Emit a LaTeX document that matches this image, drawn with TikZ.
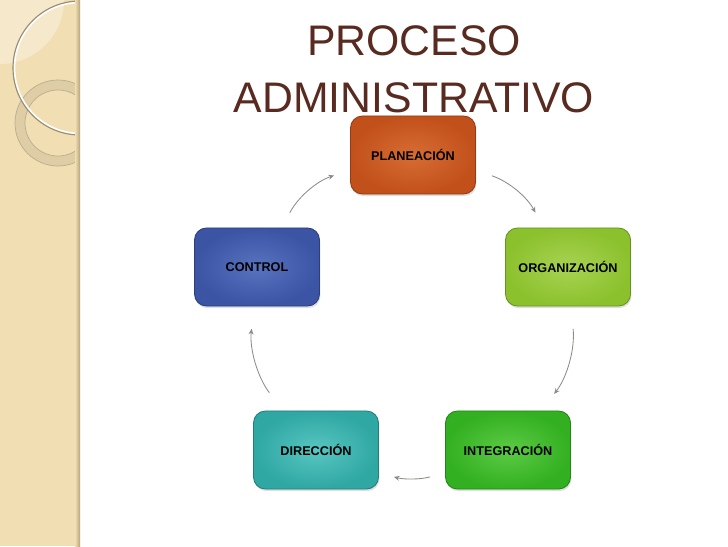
\documentclass[tikz,border=0pt]{standalone}
\usepackage{fontspec}
\setmainfont{Liberation Sans}
\usetikzlibrary{arrows.meta,shadows,calc}

\definecolor{stripbg}{HTML}{F1DFB3}
\definecolor{striplight}{HTML}{F5E8CB}
\definecolor{stripedge}{HTML}{B5A27C}
\definecolor{ringtan}{HTML}{D2C29C}
\definecolor{linegray}{HTML}{9A8D76}
\definecolor{titlebrown}{HTML}{592B20}
\definecolor{arrowgray}{HTML}{8C8C86}

\definecolor{planbase}{HTML}{C2501B}
\definecolor{planlight}{HTML}{D76D33}
\definecolor{orgbase}{HTML}{8CC12E}
\definecolor{orglight}{HTML}{A8D352}
\definecolor{intbase}{HTML}{33B021}
\definecolor{intlight}{HTML}{5CCB45}
\definecolor{dirbase}{HTML}{2FA7A3}
\definecolor{dirlight}{HTML}{58C6C1}
\definecolor{ctrlbase}{HTML}{3B54A4}
\definecolor{ctrllight}{HTML}{5873C0}

\begin{document}
\begin{tikzpicture}[x=0.025cm,y=0.025cm,>={Stealth[length=4pt,width=3.5pt]}]

\tikzstyle{stepbox}=[rounded corners=0.3cm, minimum width=3.125cm, minimum height=1.95cm, font=\bfseries\fontsize{9}{11}\selectfont, text=black, line width=0.6pt, drop shadow={opacity=0.25,shadow xshift=0.6pt,shadow yshift=-1.5pt}]
\tikzstyle{titletext}=[text=titlebrown, font=\fontsize{30.4}{36}\selectfont, anchor=base, inner sep=0pt]
\tikzstyle{cycle}=[->, draw=arrowgray, line width=0.6pt, bend left=22, shorten <=12pt, shorten >=12pt]

% BACKGROUND
\useasboundingbox (0,0) rectangle (728,-546);
\fill[white] (0,0) rectangle (728,-546);
\fill[stripbg] (0,0) rectangle (79,-546);
\begin{scope}
\clip (0,0) rectangle (79,-546);
\fill[striplight] (0,0) circle (64);
\draw[ringtan!70!gray, line width=0.5pt, fill=ringtan, fill opacity=0.6, even odd rule] (58,-123) circle (43) circle (33);
\draw[white, line width=1.2pt] (80,-68) circle (65.5);
\draw[linegray, line width=0.8pt] (80,-68) circle (67);
\end{scope}
\shade[left color=stripbg, right color=stripedge] (75,0) rectangle (80,-546);

% TITLE
\node[titletext] (ttl1) at (414,-55) {PROCESO};
\node[titletext] (ttl2) at (414,-112) {ADMINISTRATIVO};

% NODES
\node[stepbox, draw=planbase!75!black, inner color=planlight, outer color=planbase] (plan) at (413,-155) {PLANEACIÓN};
\node[stepbox, draw=orgbase!75!black, inner color=orglight, outer color=orgbase] (org) at (568,-267) {ORGANIZACIÓN};
\node[stepbox, draw=intbase!75!black, inner color=intlight, outer color=intbase] (integ) at (508,-450) {INTEGRACIÓN};
\node[stepbox, draw=dirbase!75!black, inner color=dirlight, outer color=dirbase] (direc) at (316,-450) {DIRECCIÓN};
\node[stepbox, draw=ctrlbase!75!black, inner color=ctrllight, outer color=ctrlbase] (ctrl) at (257,-267) {CONTROL};

% ARROWS
\draw[cycle] (ctrl) to (plan);
\draw[cycle] (plan) to (org);
\draw[cycle, shorten <=16pt, shorten >=15pt] (org) to (integ);
\draw[cycle, bend left=15, shorten <=11pt, shorten >=11pt] (integ.200) to (direc.-20);
\draw[cycle, shorten <=16pt, shorten >=16pt] (direc) to (ctrl);

\end{tikzpicture}
\end{document}
